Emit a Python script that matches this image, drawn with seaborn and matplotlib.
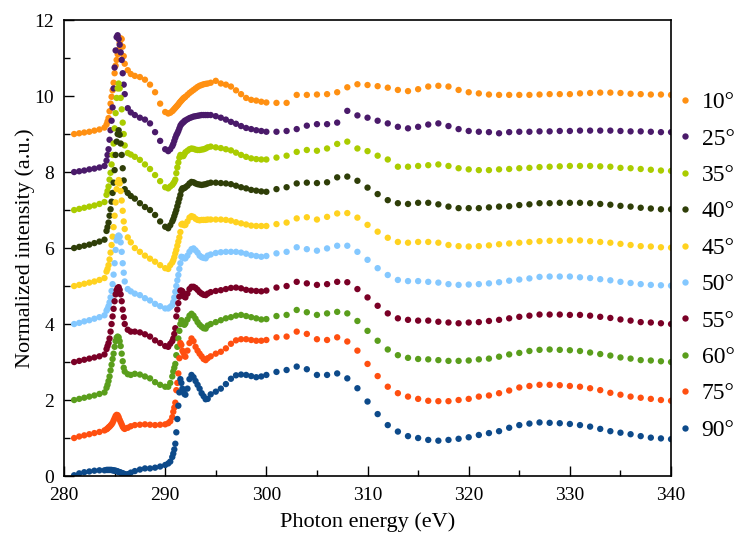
import numpy as np
import pandas as pd
import matplotlib
matplotlib.use("Agg")
import matplotlib.pyplot as plt
from matplotlib.ticker import MultipleLocator
import seaborn as sns

# photon energy grid (eV), shared by all spectra
energy = [281.0, 281.5, 282.0, 282.5, 283.0, 283.5, 284.0,
          284.2, 284.3, 284.4, 284.5, 284.6, 284.7, 284.8, 284.9, 285.0, 285.1,
          285.2, 285.3, 285.4, 285.5, 285.6, 285.7, 285.8, 285.9, 286.0,
          286.3, 286.6, 287.0, 287.5, 288.0, 288.5, 289.0, 289.5, 290.0, 290.3, 290.5,
          290.7, 290.8, 290.9, 291.0, 291.1, 291.2, 291.3, 291.4, 291.5, 291.6,
          291.7, 291.8, 291.9, 292.0,
          292.2, 292.4, 292.6, 292.8, 293.0, 293.2, 293.4, 293.6, 293.8, 294.0, 294.2,
          294.5, 295.0, 295.5, 296.0, 296.5, 297.0, 297.5, 298.0, 298.5, 299.0, 299.5, 300.0,
          301, 302, 303, 304, 305, 306, 307, 308, 309, 310,
          311, 312, 313, 314, 315, 316, 317, 318, 319, 320,
          321, 322, 323, 324, 325, 326, 327, 328, 329, 330,
          331, 332, 333, 334, 335, 336, 337, 338, 339, 340]

angles = ["10°", "25°", "35°", "40°", "45°", "50°", "55°", "60°", "75°", "90°"]
colors = ["#FF9012", "#4A1A6A", "#AACC00", "#2F3E08", "#FFD21F",
          "#84C8FF", "#7A0026", "#5A9E1C", "#FF4F10", "#0D4A8A"]

# normalized spectra (before vertical stacking)
s10 = [0.0, 0.02, 0.04, 0.06, 0.09, 0.12, 0.17,
       0.25, 0.33, 0.42, 0.6, 0.8, 0.98, 1.15, 1.35, 1.6, 1.8, 1.95, 2.1, 2.22, 2.4, 2.52, 2.5, 2.3, 2.05, 1.85,
       1.68, 1.58, 1.53, 1.5, 1.43, 1.3, 1.1, 0.8, 0.58, 0.54, 0.56,
       0.6, 0.63, 0.66, 0.69, 0.72, 0.75, 0.78, 0.82, 0.85, 0.88, 0.91, 0.94, 0.96, 0.98,
       1.03, 1.08, 1.12, 1.16, 1.2, 1.24, 1.27, 1.29, 1.31, 1.32, 1.33,
       1.35, 1.4, 1.33, 1.3, 1.25, 1.15, 1.05, 0.95, 0.9, 0.88, 0.85, 0.83,
       0.82, 0.82, 1.03, 1.03, 1.04, 1.05, 1.1, 1.23, 1.31, 1.29,
       1.26, 1.22, 1.16, 1.13, 1.18, 1.25, 1.27, 1.25, 1.16, 1.1,
       1.07, 1.04, 1.03, 1.03, 1.03, 1.03, 1.04, 1.05, 1.05, 1.05,
       1.07, 1.08, 1.09, 1.09, 1.08, 1.06, 1.05, 1.04, 1.04, 1.03]
s25 = [0.0, 0.02, 0.04, 0.07, 0.09, 0.12, 0.16,
       0.3, 0.45, 0.6, 0.85, 1.1, 1.35, 1.7, 2.2, 2.75, 3.2, 3.55, 3.6, 3.5, 3.35, 3.15, 2.95, 2.6, 2.3, 2.05,
       1.68, 1.57, 1.5, 1.43, 1.38, 1.28, 1.05, 0.82, 0.6, 0.55, 0.6,
       0.68, 0.74, 0.82, 0.9, 0.97, 1.02, 1.08, 1.15, 1.22, 1.26, 1.29, 1.31, 1.34, 1.36,
       1.39, 1.42, 1.44, 1.46, 1.47, 1.48, 1.49, 1.5, 1.5, 1.5, 1.5,
       1.5, 1.47, 1.43, 1.38, 1.32, 1.27, 1.21, 1.16, 1.13, 1.1, 1.08, 1.06,
       1.06, 1.08, 1.13, 1.22, 1.26, 1.26, 1.3, 1.61, 1.49, 1.43,
       1.35, 1.28, 1.19, 1.15, 1.19, 1.25, 1.28, 1.21, 1.13, 1.08,
       1.06, 1.05, 1.02, 1.05, 1.06, 1.06, 1.07, 1.07, 1.08, 1.08,
       1.09, 1.09, 1.09, 1.09, 1.08, 1.07, 1.07, 1.06, 1.05, 1.05]
s35 = [0.0, 0.03, 0.06, 0.09, 0.12, 0.16, 0.21,
       0.4, 0.5, 0.62, 0.8, 0.98, 1.2, 1.45, 1.75, 2.15, 2.55, 2.95, 3.2, 3.33, 3.2, 2.95, 2.65, 2.3, 2.0, 1.7,
       1.5, 1.46, 1.4, 1.32, 1.2, 1.08, 0.92, 0.76, 0.6, 0.57, 0.62,
       0.66, 0.7, 0.74, 0.8, 0.97, 1.12, 1.25, 1.38, 1.45, 1.44, 1.42, 1.42, 1.47, 1.52,
       1.56, 1.6, 1.62, 1.61, 1.59, 1.58, 1.58, 1.59, 1.6, 1.62, 1.65,
       1.67, 1.65, 1.63, 1.6, 1.57, 1.51, 1.45, 1.4, 1.36, 1.34, 1.33, 1.33,
       1.38, 1.43, 1.53, 1.58, 1.56, 1.62, 1.74, 1.8, 1.62, 1.55,
       1.43, 1.33, 1.14, 1.14, 1.16, 1.18, 1.2, 1.16, 1.1, 1.07,
       1.05, 1.05, 1.07, 1.08, 1.1, 1.11, 1.13, 1.14, 1.15, 1.16,
       1.16, 1.16, 1.15, 1.14, 1.11, 1.1, 1.08, 1.06, 1.04, 1.03]
s40 = [0.0, 0.03, 0.06, 0.09, 0.13, 0.17, 0.22,
       0.45, 0.55, 0.67, 0.85, 1.02, 1.22, 1.45, 1.72, 2.05, 2.45, 2.8, 3.0, 3.1, 2.98, 2.75, 2.45, 2.1, 1.78, 1.55,
       1.45, 1.37, 1.3, 1.18, 1.08, 1.0, 0.87, 0.7, 0.56, 0.52, 0.6,
       0.7, 0.76, 0.84, 0.92, 1.0, 1.1, 1.2, 1.3, 1.4, 1.52, 1.57, 1.57, 1.58, 1.6,
       1.64, 1.7, 1.74, 1.73, 1.7, 1.68, 1.67, 1.66, 1.67, 1.68, 1.7,
       1.72, 1.72, 1.71, 1.7, 1.68, 1.64, 1.6, 1.57, 1.53, 1.51, 1.49, 1.48,
       1.55, 1.6, 1.7, 1.72, 1.71, 1.73, 1.86, 1.88, 1.77, 1.59,
       1.42, 1.26, 1.18, 1.16, 1.19, 1.19, 1.15, 1.09, 1.05, 1.05,
       1.05, 1.07, 1.09, 1.1, 1.13, 1.15, 1.18, 1.18, 1.19, 1.19,
       1.19, 1.18, 1.16, 1.14, 1.11, 1.09, 1.06, 1.04, 1.02, 1.02]
s45 = [0.0, 0.03, 0.06, 0.09, 0.12, 0.16, 0.21,
       0.38, 0.45, 0.55, 0.7, 0.88, 1.08, 1.3, 1.55, 1.85, 2.2, 2.55, 2.72, 2.79, 2.7, 2.5, 2.25, 1.98, 1.7, 1.5,
       1.28, 1.15, 1.0, 0.9, 0.8, 0.72, 0.64, 0.55, 0.47, 0.45, 0.55,
       0.62, 0.68, 0.76, 0.86, 0.95, 1.06, 1.17, 1.28, 1.42, 1.62, 1.64, 1.62, 1.6, 1.61,
       1.7, 1.8, 1.84, 1.82, 1.77, 1.74, 1.73, 1.74, 1.74, 1.74, 1.75,
       1.75, 1.75, 1.75, 1.74, 1.72, 1.68, 1.65, 1.62, 1.59, 1.58, 1.58, 1.58,
       1.63, 1.67, 1.78, 1.81, 1.75, 1.82, 1.91, 1.92, 1.8, 1.61,
       1.43, 1.27, 1.16, 1.14, 1.16, 1.16, 1.14, 1.08, 1.05, 1.04,
       1.05, 1.07, 1.1, 1.12, 1.14, 1.16, 1.18, 1.19, 1.19, 1.2,
       1.2, 1.18, 1.16, 1.14, 1.11, 1.08, 1.05, 1.04, 1.02, 1.01]
s50 = [0.0, 0.03, 0.07, 0.1, 0.14, 0.18, 0.23,
       0.35, 0.4, 0.47, 0.57, 0.7, 0.87, 1.05, 1.3, 1.6, 1.95, 2.2, 2.3, 2.33, 2.3, 2.15, 1.9, 1.6, 1.35, 1.12,
       0.92, 0.86, 0.8, 0.76, 0.68, 0.62, 0.53, 0.47, 0.41, 0.41, 0.45,
       0.5, 0.58, 0.7, 0.85, 1.0, 1.15, 1.29, 1.45, 1.6, 1.77, 1.76, 1.74, 1.73, 1.73,
       1.8, 1.9, 1.97, 1.99, 1.94, 1.88, 1.8, 1.76, 1.74, 1.73, 1.8,
       1.83, 1.87, 1.89, 1.9, 1.9, 1.9, 1.88, 1.85, 1.81, 1.79, 1.77, 1.79,
       1.86, 1.9, 2.02, 1.97, 1.93, 1.99, 2.06, 2.06, 1.9, 1.69,
       1.47, 1.29, 1.16, 1.13, 1.13, 1.11, 1.09, 1.05, 1.03, 1.04,
       1.05, 1.07, 1.1, 1.14, 1.17, 1.2, 1.24, 1.25, 1.25, 1.25,
       1.23, 1.21, 1.18, 1.15, 1.11, 1.08, 1.05, 1.03, 1.02, 1.01]
s55 = [0.0, 0.03, 0.06, 0.09, 0.12, 0.15, 0.2,
       0.34, 0.42, 0.5, 0.62, 0.8, 1.0, 1.2, 1.4, 1.6, 1.78, 1.89, 1.95, 1.97, 1.9, 1.78, 1.6, 1.38, 1.18, 1.0,
       0.85, 0.8, 0.8, 0.78, 0.73, 0.67, 0.57, 0.5, 0.42, 0.4, 0.48,
       0.55, 0.62, 0.74, 0.89, 1.2, 1.38, 1.55, 1.72, 1.88, 1.88, 1.86, 1.8, 1.72, 1.7,
       1.8, 1.92, 1.98, 1.98, 1.95, 1.9, 1.84, 1.8, 1.77, 1.76, 1.8,
       1.84, 1.87, 1.89, 1.92, 1.95, 1.96, 1.94, 1.9, 1.88, 1.87, 1.86, 1.88,
       1.96, 2.0, 2.11, 2.07, 2.03, 2.05, 2.11, 2.1, 1.92, 1.7,
       1.48, 1.28, 1.15, 1.11, 1.09, 1.09, 1.06, 1.04, 1.02, 1.04,
       1.05, 1.08, 1.11, 1.15, 1.19, 1.22, 1.25, 1.25, 1.25, 1.24,
       1.24, 1.22, 1.19, 1.16, 1.12, 1.09, 1.05, 1.04, 1.02, 1.0]
s60 = [0.0, 0.03, 0.06, 0.09, 0.12, 0.16, 0.2,
       0.32, 0.4, 0.5, 0.62, 0.78, 0.93, 1.08, 1.22, 1.4, 1.55, 1.64, 1.67, 1.65, 1.55, 1.42, 1.22, 1.02, 0.85, 0.75,
       0.68, 0.66, 0.69, 0.67, 0.62, 0.57, 0.47, 0.4, 0.35, 0.35, 0.45,
       0.62, 0.75, 0.85, 0.95, 1.18, 1.4, 1.62, 1.82, 2.0, 2.1, 2.06, 2.0, 1.98, 2.02,
       2.12, 2.22, 2.27, 2.22, 2.14, 2.05, 1.98, 1.93, 1.89, 1.88, 1.96,
       2.0, 2.05, 2.1, 2.15, 2.18, 2.22, 2.24, 2.21, 2.18, 2.15, 2.12, 2.13,
       2.21, 2.24, 2.37, 2.31, 2.24, 2.28, 2.32, 2.28, 2.08, 1.82,
       1.56, 1.33, 1.18, 1.11, 1.08, 1.07, 1.05, 1.03, 1.03, 1.04,
       1.07, 1.09, 1.14, 1.2, 1.24, 1.29, 1.32, 1.33, 1.32, 1.31,
       1.29, 1.25, 1.21, 1.17, 1.12, 1.09, 1.05, 1.04, 1.02, 1.0]
s75 = [0.0, 0.04, 0.07, 0.1, 0.13, 0.16, 0.2,
       0.23, 0.25, 0.28, 0.3, 0.33, 0.36, 0.4, 0.46, 0.52, 0.58, 0.61, 0.6, 0.55, 0.48, 0.42, 0.36, 0.3, 0.26, 0.24,
       0.27, 0.31, 0.34, 0.35, 0.36, 0.35, 0.34, 0.35, 0.36, 0.39, 0.44,
       0.55, 0.69, 0.8, 0.93, 1.26, 1.45, 1.7, 2.1, 2.5, 2.45, 2.3, 2.25, 2.16, 2.14,
       2.3, 2.5, 2.62, 2.55, 2.4, 2.3, 2.22, 2.15, 2.08, 2.05, 2.1,
       2.15, 2.22, 2.27, 2.36, 2.48, 2.57, 2.6, 2.6, 2.58, 2.56, 2.56, 2.58,
       2.65, 2.67, 2.8, 2.74, 2.6, 2.58, 2.65, 2.54, 2.3, 1.95,
       1.63, 1.35, 1.18, 1.09, 1.03, 0.98, 0.97, 0.97, 1.0, 1.03,
       1.09, 1.12, 1.18, 1.25, 1.33, 1.37, 1.4, 1.4, 1.39, 1.37,
       1.35, 1.31, 1.26, 1.19, 1.14, 1.09, 1.06, 1.03, 1.0, 0.98]
s90 = [0.02, 0.07, 0.1, 0.12, 0.14, 0.15, 0.15,
       0.16, 0.16, 0.16, 0.16, 0.16, 0.16, 0.15, 0.15, 0.14, 0.14, 0.13, 0.12, 0.11, 0.1, 0.09, 0.08, 0.07, 0.06, 0.05,
       0.05, 0.09, 0.13, 0.17, 0.2, 0.2, 0.22, 0.25, 0.29, 0.33, 0.38,
       0.5, 0.59, 0.7, 0.85, 1.15, 1.5, 1.85, 2.2, 2.55, 2.45, 2.3, 2.22, 2.16, 2.14,
       2.3, 2.55, 2.66, 2.6, 2.5, 2.4, 2.3, 2.18, 2.1, 2.02, 2.03,
       2.15, 2.22, 2.3, 2.42, 2.56, 2.65, 2.67, 2.66, 2.63, 2.6, 2.62, 2.66,
       2.74, 2.79, 2.88, 2.81, 2.66, 2.66, 2.7, 2.57, 2.31, 1.96,
       1.63, 1.34, 1.17, 1.05, 1.0, 0.95, 0.93, 0.95, 0.98, 1.02,
       1.08, 1.13, 1.18, 1.27, 1.34, 1.38, 1.41, 1.4, 1.39, 1.37,
       1.34, 1.3, 1.24, 1.18, 1.14, 1.1, 1.05, 1.01, 0.99, 0.97]

spectra = [s10, s25, s35, s40, s45, s50, s55, s60, s75, s90]

# stack spectra: 10° on top, each one shifted by 1
frames = []
for i, (ang, vals) in enumerate(zip(angles, spectra)):
    shift = len(angles) - 1 - i
    frames.append(pd.DataFrame({"energy": energy,
                                "intensity": np.array(vals) + shift,
                                "angle": ang}))
df = pd.concat(frames, ignore_index=True)

sns.set_style("ticks")
plt.rcParams["font.family"] = ["Liberation Serif", "DejaVu Serif"]
plt.rcParams.update({"text.color": "black", "axes.labelcolor": "black",
                     "xtick.color": "black", "ytick.color": "black",
                     "axes.edgecolor": "black"})

fig = plt.figure(figsize=(7.41, 5.33), dpi=100)
ax = fig.add_axes([0.0864, 0.1069, 0.8192, 0.8555])

sns.scatterplot(data=df, x="energy", y="intensity", hue="angle",
                hue_order=angles, palette=dict(zip(angles, colors)),
                s=21, linewidth=0, ax=ax)

ax.set_xlim(280, 340)
ax.set_ylim(0, 12)
ax.xaxis.set_major_locator(MultipleLocator(10))
ax.xaxis.set_minor_locator(MultipleLocator(5))
ax.yaxis.set_major_locator(MultipleLocator(2))
ax.yaxis.set_minor_locator(MultipleLocator(1))
ax.tick_params(which="major", direction="in", length=7, width=1, labelsize=14)
ax.tick_params(axis="x", which="major", pad=8)
ax.tick_params(axis="y", which="major", pad=7)
ax.tick_params(which="minor", direction="in", length=4, width=1)
for sp in ax.spines.values():
    sp.set_linewidth(1.2)
    sp.set_visible(True)

ax.set_xlabel("Photon energy (eV)", fontsize=16, labelpad=6)
ax.set_ylabel("Normalized intensity (a.u.)", fontsize=16, labelpad=0)

ax.legend(loc="center left", bbox_to_anchor=(1.0, 0.46), frameon=False,
          fontsize=17, handlelength=0.75, handletextpad=0.35,
          labelspacing=0.63, borderaxespad=0.0, borderpad=0.2)

fig.savefig("out.png", dpi=100)
